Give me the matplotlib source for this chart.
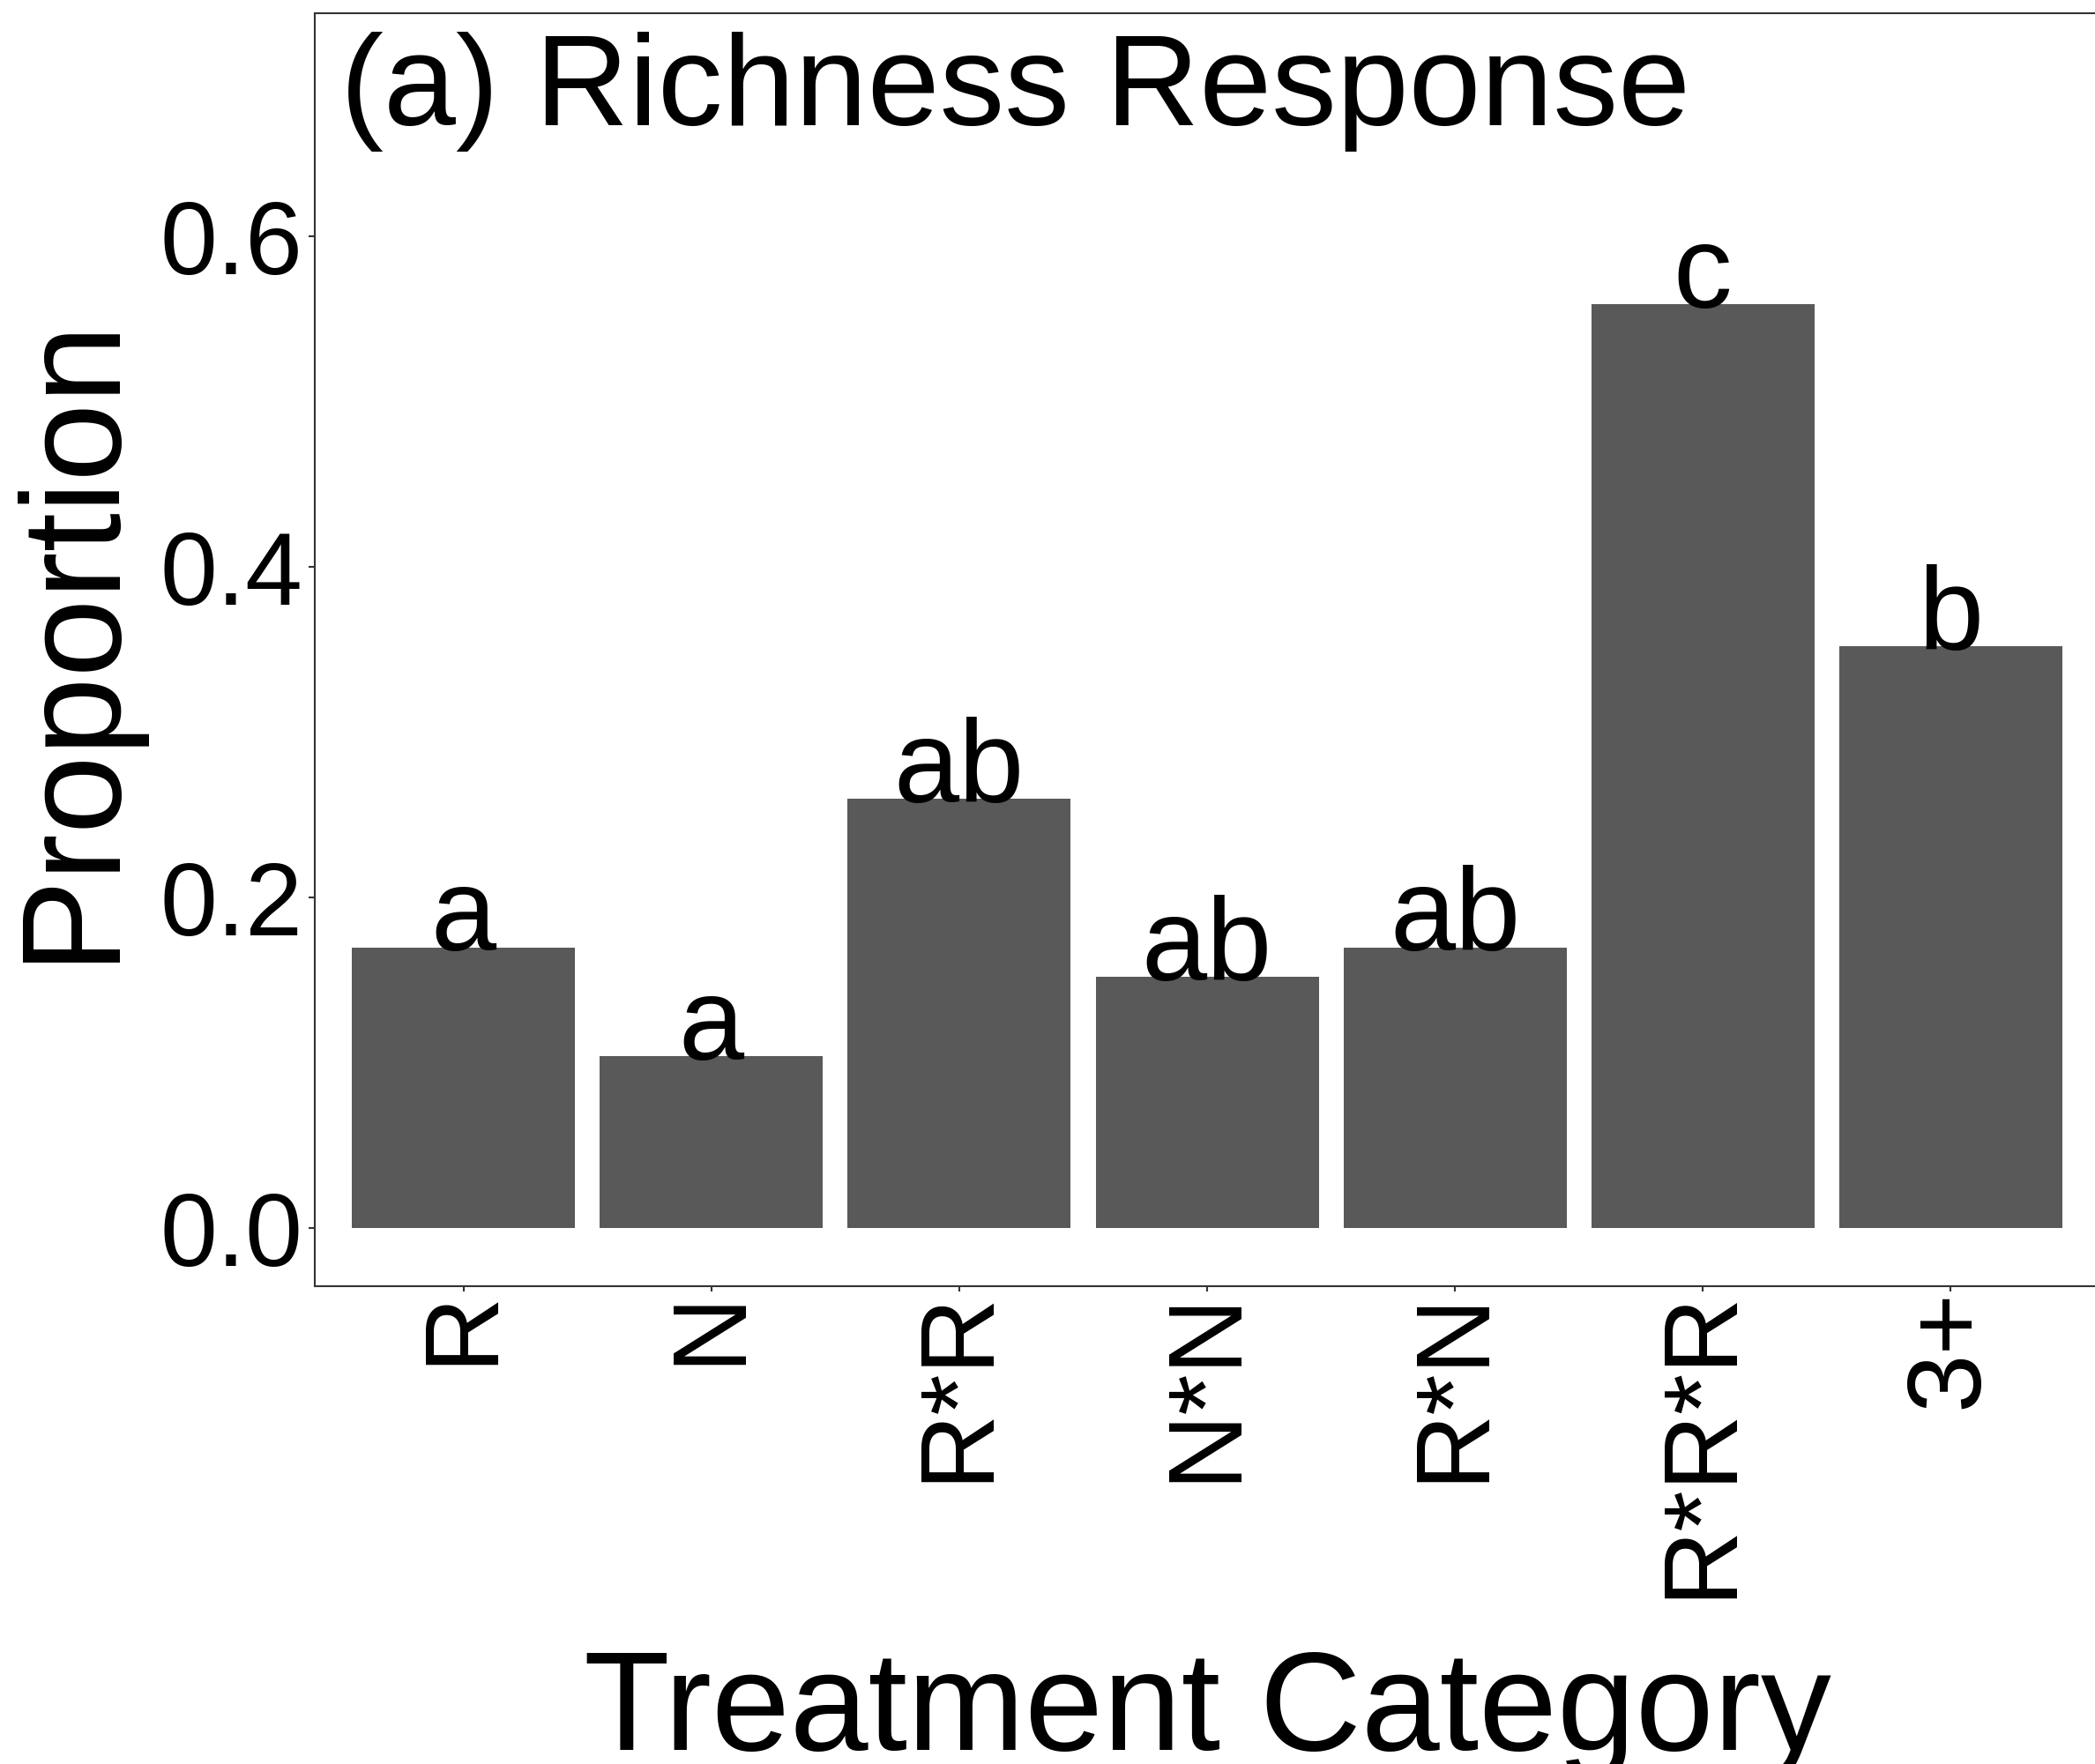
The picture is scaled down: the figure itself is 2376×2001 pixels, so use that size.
import matplotlib
matplotlib.use("Agg")
import matplotlib.pyplot as plt
import numpy as np

plt.rcParams['font.family'] = ['Liberation Sans', 'DejaVu Sans']

categories = ["R", "N", "R*R", "N*N", "R*N", "R*R*R", "3+"]
proportions = [0.170, 0.104, 0.260, 0.152, 0.170, 0.559, 0.352]
group_letters = ["a", "a", "ab", "ab", "ab", "c", "b"]
y_ticks = [0.0, 0.2, 0.4, 0.6]
y_tick_labels = ["0.0", "0.2", "0.4", "0.6"]

W, H = 2376, 2001
fig = plt.figure(figsize=(W / 100, H / 100), dpi=100)
ax = fig.add_axes([357 / W, 1 - 1459 / H, (2381 - 357) / W, (1459 - 15) / H])

x = np.arange(len(categories))
ax.bar(x, proportions, width=0.9, color="#595959")

for xi, val, lab in zip(x, proportions, group_letters):
    ax.text(xi, val - 0.002, lab, ha="center", va="baseline", fontsize=96)

ax.set_xlim(-0.6, len(categories) - 0.4)
ax.set_ylim(-0.035, 0.735)
ax.set_xticks(x)
ax.set_xticklabels(categories, rotation=90, fontsize=86)
ax.set_yticks(y_ticks)
ax.set_yticklabels(y_tick_labels, fontsize=84)
ax.tick_params(axis="x", length=4, width=1.5, color="#333333", pad=-2)
ax.tick_params(axis="y", length=5, width=1.5, color="#333333", pad=5)

for s in ax.spines.values():
    s.set_color("#333333")
    s.set_linewidth(1.5)

ax.text(386 / W, 1 - 36 / H, "(a) Richness Response", transform=fig.transFigure,
        ha="left", va="top", fontsize=106)
fig.text(8 / W, 1 - 722 / H, "Proportion", rotation=90, ha="left", va="center",
         fontsize=115)
fig.text(1369 / W, 1 - 1985 / H, "Treatment Category", ha="center", va="baseline",
         fontsize=115)

fig.savefig("out.png", dpi=100)
